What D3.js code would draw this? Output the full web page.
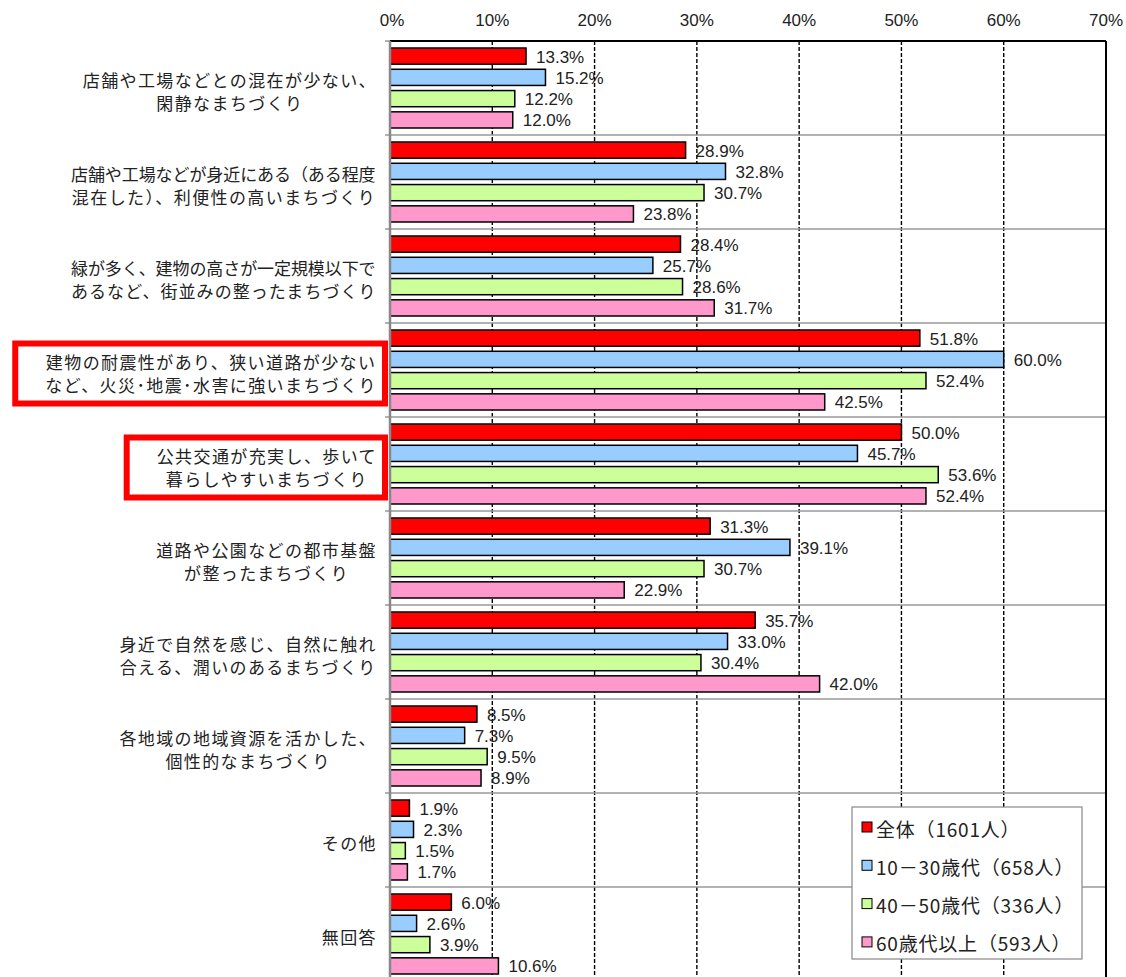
<!DOCTYPE html>
<html>
<head>
<meta charset="utf-8">
<script src="https://cdn.jsdelivr.net/npm/d3@7"></script>
<style>
body { margin: 0; background: #fff; }
.cat { font-family: "Noto Sans CJK JP", sans-serif; font-size: 17px; fill: #222; letter-spacing: 1.4px; }
.val, .xlab { font-family: "Liberation Sans", Arial, sans-serif; font-size: 17px; fill: #222; }
.legend text { font-family: "Noto Sans CJK JP", sans-serif; font-size: 19px; fill: #222; letter-spacing: 0.8px; }
</style>
</head>
<body>
<script>
// categories (each one is a list of lines)
var categories = [
  ["店舗や工場などとの混在が少ない、", "閑静なまちづくり"],
  ["店舗や工場などが身近にある（ある程度", "混在した）、利便性の高いまちづくり"],
  ["緑が多く、建物の高さが一定規模以下で", "あるなど、街並みの整ったまちづくり"],
  ["建物の耐震性があり、狭い道路が少ない", "など、火災･地震･水害に強いまちづくり"],
  ["公共交通が充実し、歩いて", "暮らしやすいまちづくり"],
  ["道路や公園などの都市基盤", "が整ったまちづくり"],
  ["身近で自然を感じ、自然に触れ", "合える、潤いのあるまちづくり"],
  ["各地域の地域資源を活かした、", "個性的なまちづくり"],
  ["その他"],
  ["無回答"]
];
var highlighted = [3, 4];

var seriesNames = ["全体（1601人）", "10－30歳代（658人）", "40－50歳代（336人）", "60歳代以上（593人）"];
var seriesColors = ["#ff0000", "#99ccff", "#ccff99", "#ff99cc"];

// percentages, one list per series
var all      = [13.3, 28.9, 28.4, 51.8, 50.0, 31.3, 35.7, 8.5, 1.9, 6.0];
var age10_30 = [15.2, 32.8, 25.7, 60.0, 45.7, 39.1, 33.0, 7.3, 2.3, 2.6];
var age40_50 = [12.2, 30.7, 28.6, 52.4, 53.6, 30.7, 30.4, 9.5, 1.5, 3.9];
var age60    = [12.0, 23.8, 31.7, 42.5, 52.4, 22.9, 42.0, 8.9, 1.7, 10.6];
var series = [all, age10_30, age40_50, age60];

var xTicks = [0, 10, 20, 30, 40, 50, 60, 70];

var margin = {top: 41, left: 390},
    width = 716,
    height = 940;

var svg = d3.select("body").append("svg")
    .attr("width", 1126)
    .attr("height", 977);

var g = svg.append("g")
    .attr("transform", "translate(" + margin.left + "," + margin.top + ")");

// scales
var x = d3.scaleLinear().domain([0, 70]).range([0, width]);
var y = d3.scaleBand().domain(d3.range(categories.length)).range([0, height]);
var y1 = d3.scaleBand().domain(d3.range(series.length))
    .range([7, y.bandwidth() - 7]).paddingInner(0.24);

// dashed grid
g.selectAll(".grid")
    .data(xTicks.slice(1, -1))
  .enter().append("line")
    .attr("x1", d => x(d)).attr("x2", d => x(d))
    .attr("y1", 0).attr("y2", height)
    .attr("stroke", "#000")
    .attr("stroke-width", 1.4)
    .attr("stroke-dasharray", "4,2");

// category separators + ticks on the left
g.selectAll(".sep")
    .data(d3.range(1, categories.length))
  .enter().append("line")
    .attr("x1", -5).attr("x2", width)
    .attr("y1", d => y(d)).attr("y2", d => y(d))
    .attr("stroke", "#999")
    .attr("stroke-width", 1.5);

// frame: top and right black, left axis gray
g.append("line").attr("x1", -5).attr("x2", 0).attr("y1", 0).attr("y2", 0)
    .attr("stroke", "#999").attr("stroke-width", 1.5);
g.append("line").attr("x1", 0).attr("x2", width).attr("y1", 0).attr("y2", 0)
    .attr("stroke", "#000").attr("stroke-width", 2);
g.append("line").attr("x1", width).attr("x2", width).attr("y1", 0).attr("y2", height)
    .attr("stroke", "#000").attr("stroke-width", 2);

// x tick labels on top
g.selectAll(".xlab")
    .data(xTicks)
  .enter().append("text")
    .attr("class", "xlab")
    .attr("x", d => x(d) + (d === 0 ? 2 : 0))
    .attr("y", -21)
    .attr("text-anchor", "middle")
    .attr("dominant-baseline", "central")
    .text(d => d + "%");

// bars
var rows = g.selectAll(".row")
    .data(categories.map((c, i) => i))
  .enter().append("g")
    .attr("class", "row")
    .attr("transform", d => "translate(0," + y(d) + ")");

rows.selectAll("rect")
    .data(i => series.map((s, k) => ({k: k, v: s[i]})))
  .enter().append("rect")
    .attr("x", 0)
    .attr("y", d => y1(d.k))
    .attr("width", d => x(d.v))
    .attr("height", y1.bandwidth())
    .attr("fill", d => seriesColors[d.k])
    .attr("stroke", "#000")
    .attr("stroke-width", 1.5);

rows.selectAll(".val")
    .data(i => series.map((s, k) => ({k: k, v: s[i]})))
  .enter().append("text")
    .attr("class", "val")
    .attr("x", d => x(d.v) + 10)
    .attr("y", d => y1(d.k) + y1.bandwidth() / 2 + 1)
    .attr("dominant-baseline", "central")
    .text(d => d3.format(".1f")(d.v) + "%");

// left axis line (drawn over the bars' left edges)
g.append("line").attr("x1", 0).attr("x2", 0).attr("y1", 0).attr("y2", height)
    .attr("stroke", "#888").attr("stroke-width", 2.5);

// category labels: lines centered in a right aligned block
var labRight = 377;
categories.forEach(function(lines, i) {
  var cy = margin.top + y(i) + y.bandwidth() / 2 + 2.5;
  var lg = svg.append("g");
  var texts = lines.map(function(line, j) {
    return lg.append("text")
        .attr("class", "cat")
        .attr("y", cy + (j - (lines.length - 1) / 2) * 23)
        .attr("dominant-baseline", "central")
        .attr("text-anchor", "middle")
        .text(line);
  });
  var cap = highlighted.indexOf(i) >= 0 ? 1000 : 306;
  texts.forEach(function(t) {
    var w = t.node().getComputedTextLength();
    if (w > cap) t.attr("textLength", cap).attr("lengthAdjust", "spacing");
  });
  var maxW = d3.max(texts, t => Math.min(t.node().getComputedTextLength(), cap));
  texts.forEach(t => t.attr("x", labRight - maxW / 2));

  if (highlighted.indexOf(i) >= 0) {
    var b = lg.node().getBBox();
    lg.insert("rect", "text")
      .attr("x", b.x - 30)
      .attr("y", b.y - 5)
      .attr("width", b.width + 38)
      .attr("height", b.height + 12)
      .attr("fill", "#fff")
      .attr("stroke", "#ff0000")
      .attr("stroke-width", 6);
  }
});

// legend
var lgd = svg.append("g").attr("class", "legend")
    .attr("transform", "translate(852,807)");
lgd.append("rect")
    .attr("width", 230).attr("height", 152)
    .attr("fill", "#fff").attr("stroke", "#888").attr("stroke-width", 1.2);
var items = lgd.selectAll(".item")
    .data(seriesNames)
  .enter().append("g")
    .attr("transform", (d, k) => "translate(0," + (20 + k * 38.3) + ")");
items.append("rect")
    .attr("x", 10).attr("y", -5)
    .attr("width", 10).attr("height", 10)
    .attr("fill", (d, k) => seriesColors[k])
    .attr("stroke", "#000").attr("stroke-width", 1);
items.append("text")
    .attr("x", 24)
    .attr("y", 1)
    .attr("dominant-baseline", "central")
    .text(d => d);
</script>
</body>
</html>
